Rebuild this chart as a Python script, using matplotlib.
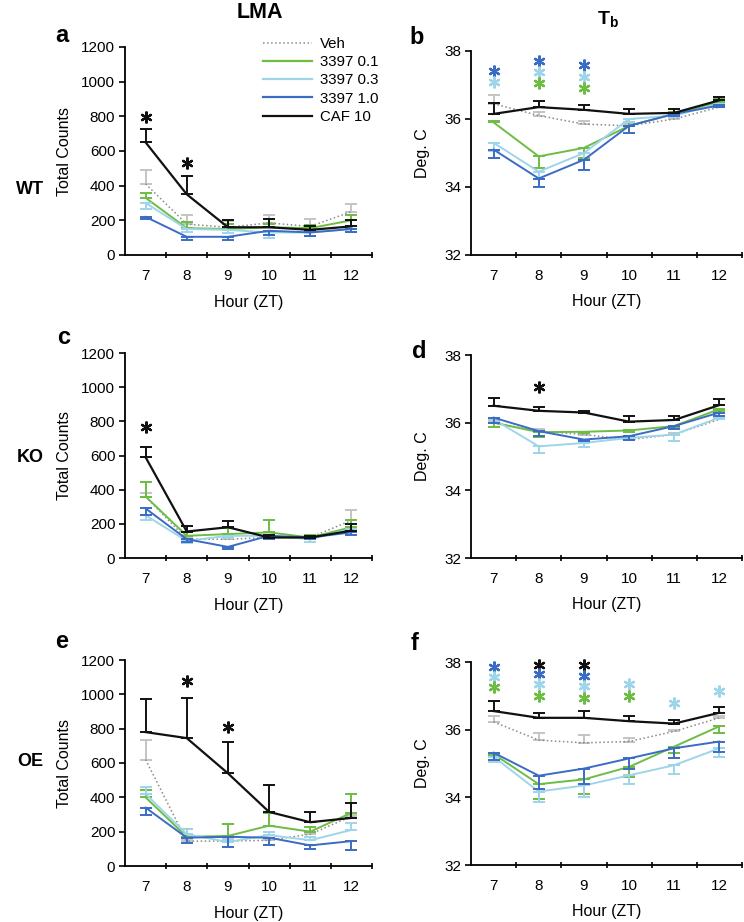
import matplotlib
matplotlib.use("Agg")
import matplotlib.pyplot as plt
from matplotlib.lines import Line2D

plt.rcParams['font.family'] = ['Liberation Sans', 'DejaVu Sans']
plt.rcParams['mathtext.fontset'] = 'custom'
plt.rcParams['mathtext.rm'] = 'Liberation Sans'
plt.rcParams['mathtext.bf'] = 'Liberation Sans:bold'

hours = [7, 8, 9, 10, 11, 12]
series = ['Veh', '3397 0.1', '3397 0.3', '3397 1.0', 'CAF 10']
colors = ['#8a8a8a', '#6dbd45', '#9ed5ea', '#3b6cc4', '#111111']
err_colors = ['#c4c4c4', '#6dbd45', '#9ed5ea', '#3b6cc4', '#111111']

# rows: Veh, 0.1, 0.3, 1.0, CAF ; errors signed (+ up, - down)
wt_lma_mean = [[410, 178, 160, 185, 165, 250],
               [330, 155, 150, 160, 155, 200],
               [300, 150, 145, 130, 130, 150],
               [220, 105, 105, 140, 130, 150],
               [650, 350, 160, 160, 145, 165]]
wt_lma_err = [[80, 52, 35, 45, 45, 45],
              [30, 35, 30, 20, 20, 30],
              [-35, -20, -20, -30, -20, -20],
              [-15, -20, -20, -25, -20, -20],
              [75, 105, 40, 45, 20, 35]]

wt_tb_mean = [[36.45, 36.1, 35.85, 35.8, 36.0, 36.35],
              [35.9, 34.9, 35.15, 35.8, 36.15, 36.5],
              [35.3, 34.45, 35.0, 36.0, 36.1, 36.45],
              [35.1, 34.25, 34.8, 35.8, 36.15, 36.4],
              [36.15, 36.35, 36.27, 36.15, 36.18, 36.55]]
wt_tb_err = [[0.25, 0.1, 0.08, 0.05, 0.05, 0.05],
             [0.05, -0.35, -0.3, 0.1, 0.05, 0.1],
             [-0.25, -0.2, -0.2, -0.1, -0.05, -0.1],
             [-0.25, -0.25, -0.3, -0.2, -0.05, -0.05],
             [0.33, 0.17, 0.15, 0.15, 0.1, 0.1]]

ko_lma_mean = [[360, 110, 110, 120, 120, 220],
               [360, 130, 140, 150, 120, 180],
               [250, 100, 130, 130, 110, 170],
               [290, 110, 65, 130, 120, 150],
               [590, 155, 180, 120, 120, 160]]
ko_lma_err = [[20, 10, 10, 10, 10, 60],
              [85, 20, 35, 70, 15, 45],
              [-25, -10, -10, -10, -15, -15],
              [-40, -15, -10, -20, -10, -15],
              [60, 30, 35, 15, 10, 40]]

ko_tb_mean = [[36.0, 35.75, 35.65, 35.5, 35.65, 36.1],
              [36.0, 35.72, 35.73, 35.77, 35.9, 36.4],
              [36.1, 35.3, 35.4, 35.55, 35.65, 36.15],
              [36.15, 35.75, 35.5, 35.6, 35.9, 36.3],
              [36.5, 36.35, 36.3, 36.03, 36.08, 36.52]]
ko_tb_err = [[0.05, 0.05, 0.05, 0.05, 0.05, 0.05],
             [-0.12, -0.15, -0.05, -0.05, -0.05, -0.05],
             [-0.1, -0.2, -0.12, -0.05, -0.18, -0.05],
             [-0.15, -0.15, -0.05, -0.1, -0.1, -0.1],
             [0.24, 0.11, 0.05, 0.17, 0.12, 0.17]]

oe_lma_mean = [[620, 145, 145, 150, 185, 290],
               [400, 170, 175, 235, 200, 310],
               [420, 185, 140, 180, 150, 210],
               [340, 165, 170, 165, 120, 145],
               [780, 745, 540, 315, 255, 280]]
oe_lma_err = [[115, 10, 10, 10, 10, 10],
              [40, 45, 70, 75, 30, 110],
              [40, 30, 10, 20, 20, 40],
              [-40, -30, -60, -45, -20, -50],
              [195, 235, 185, 155, 60, 85]]

oe_tb_mean = [[36.23, 35.69, 35.61, 35.65, 35.95, 36.35],
              [35.28, 34.39, 34.53, 34.9, 35.5, 36.1],
              [35.2, 34.17, 34.35, 34.65, 34.95, 35.45],
              [35.32, 34.64, 34.85, 35.15, 35.45, 35.65],
              [36.55, 36.35, 36.35, 36.25, 36.18, 36.5]]
oe_tb_err = [[0.17, 0.2, 0.23, 0.1, 0.05, 0.05],
             [-0.05, -0.44, -0.43, -0.3, -0.2, -0.2],
             [-0.15, -0.32, -0.35, -0.25, -0.25, -0.25],
             [-0.22, -0.39, -0.45, -0.3, -0.3, -0.3],
             [0.29, 0.15, 0.2, 0.15, 0.1, 0.17]]

# significance stars: (hour, y, series index)
wt_lma_stars = [(7, 797, 4), (8, 528, 4)]
wt_tb_stars = [(7, 37.4, 3), (7, 37.1, 2), (8, 37.7, 3), (8, 37.38, 2), (8, 37.05, 1),
               (9, 37.6, 3), (9, 37.25, 2), (9, 36.9, 1)]
ko_lma_stars = [(7, 765, 4)]
ko_tb_stars = [(8, 37.05, 4)]
oe_lma_stars = [(8, 1075, 4), (9, 812, 4)]
oe_tb_stars = [(7, 37.85, 3), (7, 37.55, 2), (7, 37.25, 1),
               (8, 37.92, 4), (8, 37.65, 3), (8, 37.35, 2), (8, 37.0, 1),
               (9, 37.92, 4), (9, 37.6, 3), (9, 37.3, 2), (9, 36.95, 1),
               (10, 37.35, 2), (10, 37.0, 1), (11, 36.8, 2), (12, 37.15, 2)]

W, H = 744, 922
fig = plt.figure(figsize=(W / 100, H / 100), dpi=100)


def px_axes(left, top, right, bottom):
    return fig.add_axes([left / W, 1 - bottom / H, (right - left) / W, (bottom - top) / H])


def draw_panel(ax, means, errs, stars, lma):
    for i in range(len(series)):
        m = means[i]
        e = errs[i]
        lo = [-v if v < 0 else 0 for v in e]
        hi = [v if v > 0 else 0 for v in e]
        ax.errorbar(hours, m, yerr=[lo, hi], fmt='none', ecolor=err_colors[i],
                    elinewidth=1.4, capsize=4.5, capthick=1.4, zorder=2 + i)
        ls = ':' if i == 0 else '-'
        lw = 1.1 if i == 0 else (1.6 if i == 4 else 1.4)
        ax.plot(hours, m, color=colors[i], ls=ls, lw=lw, zorder=3 + i)
    # asterisks for significance
    for h, y, ci in stars:
        ax.plot([h], [y], ls='none', marker=(6, 2, 0), markersize=8.5,
                mew=1.6, color=colors[ci], zorder=10, clip_on=False)
    ax.set_xlim(6.5, 12.5)
    if lma:
        ax.set_ylim(0, 1200)
        ax.set_yticks([0, 200, 400, 600, 800, 1000, 1200])
        ax.set_ylabel('Total Counts', fontsize=11.5)
        ax.yaxis.set_label_coords(-0.215, 0.5)
    else:
        ax.set_ylim(32, 38)
        ax.set_yticks([32, 34, 36, 38])
        ax.set_ylabel('Deg. C', fontsize=11.5)
        ax.yaxis.set_label_coords(-0.153, 0.5)
    ax.set_xticks(hours)
    ax.set_xticks([7.5, 8.5, 9.5, 10.5, 11.5, 12.5], minor=True)
    ax.tick_params(axis='x', which='major', length=0, labelsize=11, pad=10)
    ax.tick_params(axis='x', which='minor', length=5, width=1.2, direction='inout')
    ax.tick_params(axis='y', length=4, width=1.2, labelsize=11, pad=3)
    ax.set_xlabel('Hour (ZT)', fontsize=11.5)
    ax.xaxis.set_label_coords(0.5, -0.193)
    for s in ['top', 'right']:
        ax.spines[s].set_visible(False)
    for s in ['left', 'bottom']:
        ax.spines[s].set_linewidth(1.3)
    ax.patch.set_alpha(0)


ax_a = px_axes(125, 47, 372, 255)
ax_b = px_axes(471, 51, 742, 255)
ax_c = px_axes(125, 353, 372, 558)
ax_d = px_axes(471, 355, 742, 558)
ax_e = px_axes(125, 660, 372, 866)
ax_f = px_axes(471, 662, 742, 865)

draw_panel(ax_a, wt_lma_mean, wt_lma_err, wt_lma_stars, True)
draw_panel(ax_b, wt_tb_mean, wt_tb_err, wt_tb_stars, False)
draw_panel(ax_c, ko_lma_mean, ko_lma_err, ko_lma_stars, True)
draw_panel(ax_d, ko_tb_mean, ko_tb_err, ko_tb_stars, False)
draw_panel(ax_e, oe_lma_mean, oe_lma_err, oe_lma_stars, True)
draw_panel(ax_f, oe_tb_mean, oe_tb_err, oe_tb_stars, False)


def ftext(x, y, s, **kw):
    fig.text(x / W, 1 - y / H, s, ha='center', va='center', **kw)


ftext(260, 12, 'LMA', fontsize=15.5, fontweight='bold')
ftext(608, 19, r'$\mathbf{T_b}$', fontsize=14)
ftext(30, 190, 'WT', fontsize=13, fontweight='bold')
ftext(30, 457, 'KO', fontsize=13, fontweight='bold')
ftext(30, 762, 'OE', fontsize=13, fontweight='bold')
ftext(62, 36, 'a', fontsize=17, fontweight='bold')
ftext(417, 37, 'b', fontsize=17, fontweight='bold')
ftext(64, 338, 'c', fontsize=17, fontweight='bold')
ftext(419, 352, 'd', fontsize=17, fontweight='bold')
ftext(62, 642, 'e', fontsize=17, fontweight='bold')
ftext(415, 643, 'f', fontsize=17, fontweight='bold')

handles = []
for i in range(len(series)):
    handles.append(Line2D([], [], color=colors[i], ls=':' if i == 0 else '-',
                          lw=1.1 if i == 0 else 1.6))
fig.legend(handles, series, loc='upper left', bbox_to_anchor=(263 / W, 1 - 37 / H),
           frameon=False, fontsize=10.8, handlelength=3.25, handletextpad=0.53,
           labelspacing=0.28, borderpad=0, borderaxespad=0)

fig.savefig('out.png', dpi=100)
